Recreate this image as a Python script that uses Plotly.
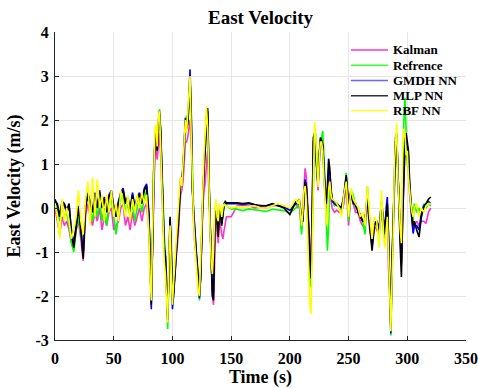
import plotly.graph_objects as go

# ---------------- data ----------------
time_s = [
    0, 2, 4, 6, 8, 10, 12, 14, 16, 18, 20, 22, 24, 26, 28, 30, 32, 34, 36, 38, 40,
    42, 44, 46, 48, 50, 52, 54, 56, 58, 60, 62, 64, 66, 68, 70, 72, 74, 76, 78, 80,
    81, 82, 83, 84, 85, 86, 87, 88, 89, 90, 91, 92, 93, 94, 95, 96, 97, 98, 99, 100,
    101, 102, 103, 104, 105, 106, 107, 108, 109, 110, 111, 112, 113, 114, 115, 116,
    117, 118, 119, 120, 121, 122, 123, 124, 125, 126, 127, 128, 129, 130, 131, 132,
    133, 134, 135, 136, 137, 138, 139, 140, 141, 142, 143, 144, 145, 146,
    150, 155, 160, 165, 170, 175, 180, 185, 190, 195, 200, 205,
    207, 208, 209, 210, 211, 212, 213, 214, 215, 216, 217, 218, 219, 220, 221, 222,
    223, 224, 225, 226, 227, 228, 229, 230, 231, 232, 233, 234, 235, 236,
    238, 240, 242, 244, 246, 248, 250, 252, 254, 256, 258, 260, 262, 264, 266, 268,
    270, 272, 274, 276, 278, 280,
    281, 282, 283, 284, 285, 286, 287, 288, 289, 290, 291, 292, 293, 294, 295, 296,
    297, 298, 299, 300, 301, 302, 303, 304, 305, 306,
    308, 310, 312, 314, 316, 318, 320,
]

kalman = [
    0.0, -0.3, -0.6, -0.2, -0.4, -0.3, -0.5, -0.8, -0.95, -0.5, -0.3, -0.7, -1.2, -0.2, 0.1, -0.2, -0.4, -0.1, -0.3, 0.0, -0.5,
    -0.2, -0.4, -0.1, 0.0, -0.5, -0.4, -0.3, 0.0, 0.1, -0.4, -0.2, -0.5, -0.1, -0.4, -0.2, 0.0, -0.3, 0.0, 0.1, -0.5,
    -1.4, -2.0, -1.0, 0.6, 1.2, 1.5, 1.1, 1.4, 1.7, 1.2, 0.6, -0.3, -1.0, -1.2, -1.9, -2.4, -1.4, -0.5, -1.1, -2.0,
    -1.8, -1.6, -1.2, -0.9, -0.6, -0.1, 0.3, 0.4, 0.6, 1.0, 1.5, 1.5, 1.6, 1.8, 2.0, 1.5,
    0.2, -0.3, -0.8, -1.1, -1.3, -1.8, -2.05, -1.6, -0.4, 0.1, 0.4, 0.6, 1.0, 1.3, 0.4, -0.6,
    -1.3, -2.0, -2.2, -0.8, -0.2, -0.5, -0.8, -0.3, -0.4, -0.6, -0.7, -0.5, -0.3, -0.2,
    -0.2, 0.05, 0.05, 0.05, 0.0, 0.02, 0.0, 0.05, 0.05, 0.05, -0.05, 0.1,
    0.0, 0.1, -0.2, -0.5, 0.0, 0.5, 0.9, 0.7, 0.2, -0.4, -1.1, -1.3, -0.2, 1.2, 1.5, 1.3,
    0.8, 0.4, 1.0, 1.4, 1.5, 1.3, 0.8, 0.2, 0.0, 0.2, 0.7, 0.6, 0.2, 0.0,
    -0.1, -0.05, -0.1, -0.1, 0.1, 0.5, -0.4, 0.3, 0.1, -0.1, -0.1, -0.3, -0.4, -0.4, 0.1, -0.5,
    -0.8, -0.4, -0.5, -0.6, -0.1, -0.5,
    -0.7, -0.3, -0.1, -1.35, -1.9, -2.6, -1.4, -0.5, 0.7, 1.3, 1.4, 0.7, -0.2, -0.8, -1.2, -0.3,
    0.7, 1.3, 1.4, 1.2, 0.9, 0.3, -0.1, -0.3, -0.5, -0.4,
    -0.3, -0.4, -0.3, -0.3, -0.35, -0.1, 0.0,
]

reference = [
    0.05, 0.0, -0.3, 0.05, -0.2, -0.1, -0.4, -0.8, -1.0, -0.5, -0.2, -0.6, -0.9, 0.1, 0.3, 0.0, -0.3, 0.1, -0.2, 0.2, -0.3,
    0.0, -0.4, 0.1, 0.2, -0.2, -0.6, -0.2, 0.2, 0.3, -0.1, 0.1, -0.2, 0.1, -0.3, 0.0, 0.2, -0.1, 0.2, 0.4, -0.3,
    -1.0, -2.15, -0.8, 0.9, 1.5, 1.8, 1.5, 2.0, 2.25, 1.8, 1.0, -0.1, -0.6, -1.0, -1.8, -2.75, -1.5, -0.3, -1.0, -2.2,
    -2.0, -1.5, -1.0, -0.6, -0.35, 0.2, 0.5, 0.7, 0.8, 1.3, 1.9, 2.1, 1.9, 2.4, 3.0, 2.0,
    0.6, 0.0, -0.5, -0.9, -1.3, -1.75, -2.1, -1.5, -0.3, 0.4, 1.0, 1.5, 2.1, 2.2, 0.8, -0.3,
    -1.0, -1.8, -1.6, -0.3, 0.1, -0.2, -0.5, 0.0, -0.1, -0.3, -0.2, 0.05, 0.1, 0.05,
    -0.02, -0.03, -0.06, -0.02, -0.04, -0.06, -0.08, -0.03, -0.04, -0.06, -0.12, 0.0,
    0.05, 0.1, -0.3, -0.6, -0.2, 0.3, 0.6, 0.4, -0.2, -0.9, -1.7, -1.8, -0.6, 0.9, 1.5, 1.7,
    1.1, 0.5, 1.0, 1.5, 1.6, 1.75, 1.2, 0.3, -0.5, -0.97, -0.4, 0.5, 0.4, 0.2,
    0.05, 0.1, 0.0, -0.05, 0.2, 0.8, -0.3, 0.4, 0.3, 0.0, 0.0, -0.2, -0.3, -0.6, 0.5, -0.3,
    -0.8, -0.3, -0.4, -0.6, 0.0, -0.6,
    -0.5, -0.2, 0.1, -0.9, -2.0, -2.9, -1.5, -0.5, 0.8, 1.4, 1.5, 0.8, -0.3, -0.6, -0.9, 0.9,
    1.9, 2.5, 1.5, 1.0, 0.8, 0.5, 0.1, 0.0, -0.3, 0.1,
    -0.1, 0.0, -0.2, 0.1, 0.0, 0.1, 0.05,
]

gmdh = [
    0.15, 0.1, -0.15, 0.1, 0.05, -0.1, 0.05, -0.5, -0.8, -0.3, 0.05, -0.4, -1.1, 0.05, 0.35, 0.15, -0.05, 0.35, 0.05, 0.4, 0.05,
    0.25, 0.0, 0.3, 0.4, 0.05, -0.15, 0.15, 0.35, 0.45, 0.15, 0.25, 0.0, 0.35, 0.05, 0.25, 0.35, 0.15, 0.45, 0.55, -0.1,
    -1.2, -2.3, -0.9, 0.8, 1.45, 1.75, 1.35, 1.95, 2.2, 1.75, 0.95, -0.15, -0.85, -1.1, -1.85, -2.45, -1.35, -0.25, -1.0, -2.3,
    -2.0, -1.5, -1.05, -0.65, -0.3, 0.15, 0.65, 0.65, 0.95, 1.45, 2.05, 1.85, 2.0, 2.5, 3.15, 2.1,
    0.45, -0.05, -0.55, -0.95, -1.25, -1.7, -2.05, -1.55, -0.25, 0.35, 0.95, 1.45, 2.05, 2.2, 0.75, -0.35,
    -1.05, -1.9, -1.9, -0.4, 0.05, -0.3, -0.5, -0.05, -0.15, -0.35, -0.1, 0.1, 0.12, 0.1,
    0.1, 0.1, 0.08, 0.1, 0.06, 0.06, 0.05, 0.08, 0.06, 0.02, -0.05, 0.1,
    0.1, 0.15, -0.05, -0.35, -0.25, 0.25, 0.65, 0.5, 0.05, -0.5, -1.3, -1.5, -0.1, 1.5, 1.65, 1.35,
    0.85, 0.55, 1.15, 1.55, 1.5, 1.45, 0.95, 0.35, 0.1, 0.3, 0.9, 0.8, 0.35, 0.15,
    0.1, 0.05, 0.05, 0.0, 0.25, 0.7, 0.05, 0.35, 0.15, 0.05, -0.05, -0.15, -0.3, -0.25, 0.25, -0.35,
    -0.9, -0.35, -0.3, -0.45, 0.15, -0.3,
    -0.5, 0.0, 0.25, -0.7, -1.8, -2.85, -1.3, -0.4, 1.0, 1.6, 1.6, 0.9, -0.1, -0.8, -1.3, -0.1,
    0.9, 1.6, 1.6, 1.4, 1.2, 0.5, 0.0, -0.3, -0.58, -0.4,
    -0.4, -0.5, -0.1, 0.05, 0.1, 0.15, 0.1,
]

mlp = [
    0.2, 0.05, -0.2, 0.15, 0.1, -0.05, 0.1, -0.6, -0.9, -0.4, 0.0, -0.5, -1.15, 0.0, 0.3, 0.1, -0.1, 0.3, 0.0, 0.35, 0.0,
    0.2, -0.1, 0.25, 0.35, 0.0, -0.2, 0.1, 0.3, 0.4, 0.1, 0.2, -0.1, 0.3, 0.0, 0.2, 0.3, 0.1, 0.4, 0.5, -0.2,
    -1.2, -2.2, -0.9, 0.8, 1.4, 1.7, 1.3, 1.9, 2.15, 1.7, 0.9, -0.2, -0.9, -1.1, -1.9, -2.55, -1.3, -0.2, -0.9, -2.1,
    -1.9, -1.57, -1.1, -0.7, -0.4, 0.1, 0.6, 0.6, 0.9, 1.4, 2.0, 1.8, 1.9, 2.3, 2.9, 2.2,
    0.4, -0.1, -0.6, -1.0, -1.2, -1.7, -2.0, -1.6, -0.2, 0.3, 0.9, 1.4, 2.0, 2.27, 0.7, -0.4,
    -1.1, -2.0, -2.1, -0.5, 0.0, -0.4, -0.66, -0.1, -0.2, -0.4, -0.1, 0.1, 0.15, 0.12,
    0.12, 0.12, 0.1, 0.12, 0.08, 0.05, 0.05, 0.1, 0.05, 0.0, -0.15, 0.15,
    0.15, 0.2, 0.0, -0.3, -0.3, 0.2, 0.6, 0.5, 0.1, -0.4, -1.2, -1.6, -0.2, 1.6, 1.7, 1.3,
    0.8, 0.5, 1.2, 1.6, 1.55, 1.4, 0.9, 0.3, 0.2, 0.5, 1.12, 0.9, 0.4, 0.2,
    0.15, 0.1, 0.05, 0.0, 0.3, 0.75, 0.1, 0.4, 0.1, 0.1, -0.1, -0.2, -0.3, -0.3, 0.2, -0.4,
    -0.97, -0.4, -0.3, -0.5, 0.1, -0.4,
    -0.6, -0.2, 0.1, -0.6, -1.6, -2.7, -1.2, -0.3, 0.9, 1.5, 1.7, 1.0, 0.0, -0.9, -1.57, -0.3,
    0.8, 1.5, 1.7, 1.5, 1.3, 0.6, 0.1, -0.2, -0.4, -0.3,
    -0.5, -0.66, -0.2, 0.0, 0.1, 0.2, 0.25,
]

rbf = [
    0.1, -0.2, -0.7, 0.2, -0.3, 0.0, -0.3, -0.7, -0.5, -0.2, 0.4, -0.3, -0.6, 0.2, 0.6, -0.4, 0.7, -0.2, 0.65, 0.0, 0.3,
    -0.3, 0.3, -0.1, 0.4, -0.2, 0.1, -0.3, 0.4, 0.1, -0.2, 0.3, -0.3, 0.2, -0.1, 0.3, 0.0, 0.35, 0.1, 0.3, -0.6,
    -1.6, -2.1, -0.6, 1.0, 1.7, 1.9, 1.4, 2.1, 2.2, 1.4, 0.5, -0.4, -1.2, -1.5, -2.1, -2.6, -1.1, -0.4, -1.4, -2.2,
    -1.7, -1.2, -0.8, -0.4, 0.0, 0.4, 0.7, 0.5, 1.1, 1.6, 2.0, 1.7, 2.2, 2.7, 3.0, 1.6,
    0.3, -0.3, -0.8, -1.2, -1.5, -1.9, -2.0, -1.2, 0.0, 0.6, 1.3, 1.7, 2.3, 1.8, 0.3, -0.5,
    -1.2, -1.5, -1.0, -0.1, 0.2, -0.2, -0.3, 0.1, 0.0, -0.2, 0.0, 0.1, 0.05, 0.05,
    0.0, 0.03, 0.02, 0.03, 0.05, 0.0, 0.0, 0.05, 0.1, 0.05, 0.0, 0.2,
    0.1, 0.2, -0.1, -0.4, -0.1, 0.4, 0.5, 0.2, -0.5, -1.4, -2.2, -2.41, -0.8, 1.2, 1.96, 1.6,
    0.9, 0.48, 1.1, 1.5, 1.5, 1.3, 0.7, 0.1, -0.3, -0.4, 0.4, 0.6, 0.3, 0.2,
    0.17, 0.1, 0.0, -0.2, 0.3, 0.6, -0.2, 0.45, 0.2, 0.1, 0.02, -0.2, -0.1, -0.4, 0.5, -0.2,
    -0.7, -0.2, -0.3, -0.9, 0.4, -0.7,
    -0.9, -0.5, -0.2, -1.0, -2.2, -2.8, -1.6, -0.66, 1.0, 1.6, 1.92, 0.7, 0.0, -0.5, -0.8, 1.2,
    1.8, 1.7, 1.2, 1.3, 0.7, 0.3, 0.1, -0.1, -0.2, 0.0,
    0.1, -0.2, 0.0, -0.1, 0.05, 0.1, 0.1,
]

series_names = ["Kalman", "Refrence", "GMDH NN", "MLP NN", "RBF NN"]
series_colors = ["#FF33CC", "#00FF00", "#0000FF", "#000000", "#FFFF00"]
legend_colors = ["#FF33CC", "#33FF33", "#6666FF", "#333333", "#FFFF33"]

x_tick_vals = [0, 50, 100, 150, 200, 250, 300, 350]
x_tick_text = ["0", "50", "100", "150", "200", "250", "300", "350"]
y_tick_vals = [-3, -2, -1, 0, 1, 2, 3, 4]
y_tick_text = ["-3", "-2", "-1", "0", "1", "2", "3", "4"]

# ---------------- figure ----------------
FONT = "Liberation Serif"

fig = go.Figure()
for name, vals, col in zip(series_names, [kalman, reference, gmdh, mlp, rbf], series_colors):
    fig.add_trace(go.Scatter(x=time_s, y=vals, mode="lines", name=name,
                             line=dict(color=col, width=1.6), showlegend=False))

# compact legend (MATLAB style, tighter row spacing than Plotly's native legend)
leg_x0, leg_x1, leg_text_x = 0.720, 0.810, 0.817   # paper fractions of plot width
leg_y_top, leg_dy = 0.9416, 0.0494                  # paper fractions of plot height
for i, (name, col) in enumerate(zip(series_names, legend_colors)):
    yy = leg_y_top - i * leg_dy
    fig.add_shape(type="line", xref="paper", yref="paper", x0=leg_x0, x1=leg_x1, y0=yy, y1=yy,
                  line=dict(color=col, width=1.5))
    fig.add_annotation(xref="paper", yref="paper", x=leg_text_x, y=yy, text=name, showarrow=False,
                       xanchor="left", yanchor="middle",
                       font=dict(family=FONT, size=13, color="#000000", weight="bold"))

axis_common = dict(
    showline=True, linecolor="#262626", linewidth=1, mirror=False,
    ticks="inside", ticklen=4, tickcolor="#262626",
    showgrid=True, gridcolor="#e6e6e6", gridwidth=1, zeroline=False,
    automargin=False,
    tickfont=dict(family=FONT, size=16, color="#000000", weight="bold"),
)

fig.update_layout(
    width=478, height=388,
    margin=dict(l=55, r=12, t=32, b=48),
    paper_bgcolor="white", plot_bgcolor="white",
    title=dict(text="East Velocity", x=0.545, xanchor="center", y=0.955, yanchor="middle",
               font=dict(family=FONT, size=19, color="#000000", weight="bold")),
    xaxis=dict(range=[0, 350], tickvals=x_tick_vals, ticktext=x_tick_text,
               ticklabelstandoff=4,
               title=dict(text="Time (s)", standoff=4,
                          font=dict(family=FONT, size=18, color="#000000", weight="bold")),
               **axis_common),
    yaxis=dict(range=[-3, 4], tickvals=y_tick_vals, ticktext=y_tick_text,
               ticklabelstandoff=2,
               title=dict(text="East Velocity (m/s)", standoff=10,
                          font=dict(family=FONT, size=18, color="#000000", weight="bold")),
               **axis_common),
    showlegend=False,
)

fig.write_html("out.html")
